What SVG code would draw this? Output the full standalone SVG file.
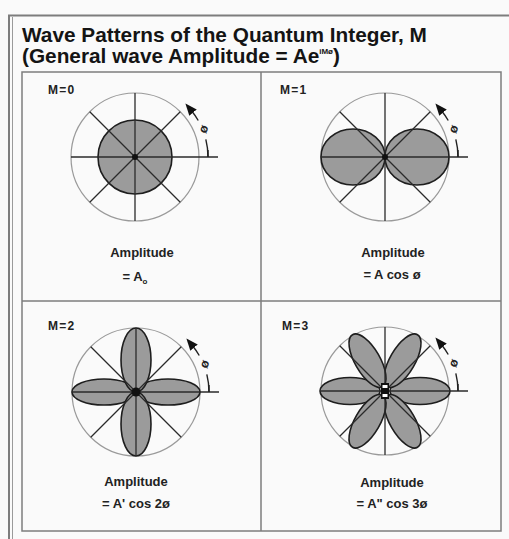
<svg xmlns="http://www.w3.org/2000/svg" xmlns:xlink="http://www.w3.org/1999/xlink" width="509" height="539" viewBox="0 0 509 539">
<style>
.title{font-family:"Liberation Sans",Arial,sans-serif;font-weight:bold;font-size:20.8px;fill:#141414}
.lbl{font-family:"Liberation Sans",Arial,sans-serif;font-weight:bold;font-size:12px;fill:#222;letter-spacing:1.2px}
.amp{font-family:"Liberation Sans",Arial,sans-serif;font-weight:bold;font-size:13px;fill:#222;text-anchor:middle}
.ring{fill:none;stroke:#9a9a9a;stroke-width:1.2}
.spoke{stroke:#2a2a2a;stroke-width:1.3;fill:none}
.lobe{fill:#9b9b9b;stroke:#1e1e1e;stroke-width:1.6}
.arc{fill:none;stroke:#222;stroke-width:1.4}
.th{font-family:"Liberation Sans",Arial,sans-serif;font-weight:bold;font-size:12.5px;fill:#222;text-anchor:middle}
.frame{fill:none;stroke:#7d7d7d}
</style>
<defs>
<marker id="ah" viewBox="0 0 10 8" refX="2" refY="4" markerWidth="12" markerHeight="9.6" markerUnits="userSpaceOnUse" orient="auto">
<path d="M0,0 L10,4 L0,8 z" fill="#111"/>
</marker>
<g id="ring"><circle r="64" class="ring"/></g>
<g id="spokes">
<line x1="-64" y1="0" x2="83" y2="0" class="spoke"/>
<line x1="0" y1="-64" x2="0" y2="64" class="spoke"/>
<line x1="-45.25" y1="-45.25" x2="45.25" y2="45.25" class="spoke"/>
<line x1="-45.25" y1="45.25" x2="45.25" y2="-45.25" class="spoke"/>
</g>
<g id="theta">
<line x1="73" y1="-7" x2="73" y2="0" class="arc"/>
<path d="M73,0 A73,73 0 0 0 70.83,-17.66" class="arc"/>
<path d="M63.22,-36.5 A73,73 0 0 0 56.5,-46.2" class="arc" marker-end="url(#ah)"/>
<text x="0" y="0" class="th" transform="translate(68.5,-28) rotate(-70)" dy="4">ø</text>
</g>
</defs>
<rect x="0" y="0" width="509" height="539" fill="#fafafa"/>
<rect x="9" y="15.5" width="510" height="540" fill="#ebebeb" class="frame" stroke-width="2"/>
<line x1="12.5" y1="17" x2="12.5" y2="539" stroke="#9a9a9a" stroke-width="1"/>
<g id="title">
<text x="22" y="42" class="title">Wave Patterns of the Quantum Integer, M</text>
<text x="22" y="63" class="title">(General wave Amplitude = Ae<tspan font-size="8" dy="-9">iMø</tspan><tspan dy="9">)</tspan></text>
</g>
<rect x="22" y="72" width="479" height="459" fill="#ffffff" class="frame" stroke-width="1.5"/>
<g id="dividers">
<line x1="261" y1="72" x2="261" y2="531" class="frame" stroke-width="1.5"/>
<line x1="22" y1="301" x2="501" y2="301" class="frame" stroke-width="1.5"/>
</g>
<g id="m0">
<text x="48" y="94" class="lbl">M=0</text>
<g transform="translate(135,157)">
<use xlink:href="#ring"/>
<circle r="37" class="lobe"/>
<use xlink:href="#spokes"/>
<use xlink:href="#theta"/>
<circle r="3" fill="#111"/>
</g>
<text x="142" y="257" class="amp">Amplitude</text>
<text x="135" y="281" class="amp">= A<tspan font-size="8" dy="3">o</tspan></text>
</g>
<g id="m1">
<text x="280" y="94" class="lbl">M=1</text>
<g transform="translate(385,157)">
<use xlink:href="#ring"/>
<ellipse cx="-32" cy="0" rx="32" ry="28" class="lobe"/>
<ellipse cx="32" cy="0" rx="32" ry="28" class="lobe"/>
<use xlink:href="#spokes"/>
<use xlink:href="#theta"/>
<circle r="3" fill="#111"/>
</g>
<text x="393" y="257" class="amp">Amplitude</text>
<text x="392" y="279" class="amp">= A cos ø</text>
</g>
<g id="m2">
<text x="48" y="330" class="lbl">M=2</text>
<g transform="translate(136,392)">
<use xlink:href="#ring"/>
<ellipse cx="-32" cy="0" rx="32" ry="13" class="lobe"/>
<ellipse cx="32" cy="0" rx="32" ry="13" class="lobe"/>
<ellipse cx="0" cy="-32" rx="15" ry="32" class="lobe"/>
<ellipse cx="0" cy="32" rx="15" ry="32" class="lobe"/>
<use xlink:href="#spokes"/>
<use xlink:href="#theta"/>
<circle r="4.5" fill="#111"/>
</g>
<text x="136" y="486" class="amp">Amplitude</text>
<text x="136" y="508" class="amp">= A' cos 2ø</text>
</g>
<g id="m3">
<text x="282" y="330" class="lbl">M=3</text>
<g transform="translate(385,391)">
<use xlink:href="#ring"/>
<ellipse cx="-35" cy="0" rx="30" ry="13.5" class="lobe"/>
<ellipse cx="35" cy="0" rx="30" ry="13.5" class="lobe"/>
<ellipse cx="0" cy="0" rx="30" ry="12.5" class="lobe" transform="rotate(-60) translate(35,0)"/>
<ellipse cx="0" cy="0" rx="30" ry="12.5" class="lobe" transform="rotate(-120) translate(35,0)"/>
<ellipse cx="0" cy="0" rx="30" ry="12.5" class="lobe" transform="rotate(60) translate(35,0)"/>
<ellipse cx="0" cy="0" rx="30" ry="12.5" class="lobe" transform="rotate(120) translate(35,0)"/>
<use xlink:href="#spokes"/>
<use xlink:href="#theta"/>
<rect x="-4" y="-8" width="8" height="16" fill="#111"/>
<rect x="-2.5" y="-6" width="5" height="3" fill="#fff"/>
<rect x="-2.5" y="3" width="5" height="3" fill="#fff"/>
</g>
<text x="392" y="487" class="amp">Amplitude</text>
<text x="392" y="508" class="amp">= A" cos 3ø</text>
</g>
</svg>
